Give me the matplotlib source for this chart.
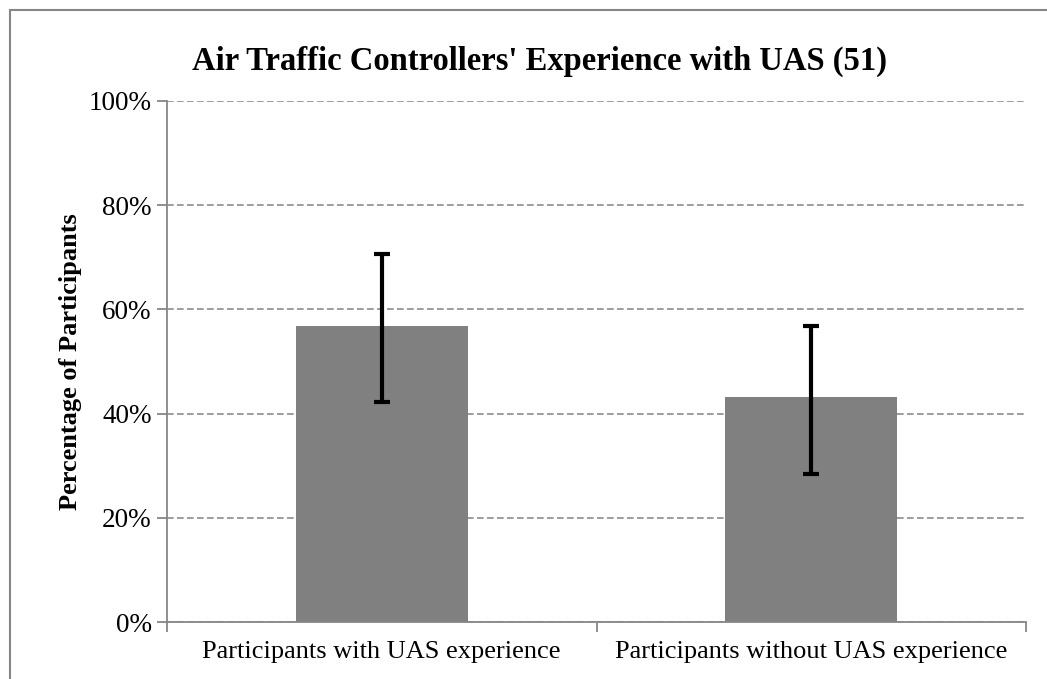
import matplotlib
matplotlib.use("Agg")
from matplotlib import pyplot as plt
from matplotlib.patches import Rectangle
from matplotlib.ticker import FuncFormatter

categories = ["Participants with UAS experience", "Participants without UAS experience"]
percent = [56.9, 43.1]
err_low = [14.6, 14.6]
err_high = [13.8, 13.8]
yticks = [0, 20, 40, 60, 80, 100]

plt.rcParams['font.family'] = ['Liberation Serif', 'DejaVu Serif']

fig = plt.figure(figsize=(10.47, 6.79), dpi=100)
ax = fig.add_axes([167 / 1047, 1 - 622 / 679, (1026 - 167) / 1047, (622 - 101) / 679])

# outer chart frame (right/bottom edges sit off the picture)
fig.patches.append(Rectangle((10 / 1047, -0.05), 1.1, 1 - 10 / 679 + 0.05,
                             transform=fig.transFigure, fill=False,
                             edgecolor='#868686', linewidth=1.5))

x = [0.5, 1.5]
ax.bar(x, percent, width=0.4, color='#808080', zorder=2)
ax.errorbar(x, percent, yerr=[err_low, err_high], fmt='none', ecolor='black',
            elinewidth=3, capsize=6, capthick=3, zorder=3)

ax.set_xlim(0, 2)
ax.set_ylim(0, 100)
ax.set_yticks(yticks)
ax.yaxis.set_major_formatter(FuncFormatter(lambda v, p: f"{v:.0f}%"))
ax.set_xticks([0, 1, 2])
ax.set_xticklabels([])
ax.set_xticks(x, minor=True)
ax.set_xticklabels(categories, minor=True)
ax.tick_params(axis='x', which='minor', length=0, labelsize=19, pad=14)
ax.tick_params(axis='x', which='major', length=7, color='#868686', width=1.3)
ax.tick_params(axis='y', length=7, color='#868686', width=1.3, labelsize=19.5, pad=4)

ax.grid(axis='y', linestyle=(0, (4, 2)), color='#8c8c8c', linewidth=1.2, zorder=0)
for s in ['top', 'right']:
    ax.spines[s].set_visible(False)
for s in ['left', 'bottom']:
    ax.spines[s].set_color('#868686')
    ax.spines[s].set_linewidth(1.3)

ax.set_ylabel("Percentage of Participants", fontsize=19, fontweight='bold', labelpad=5)
fig.text(539 / 1047, 1 - 61 / 679, "Air Traffic Controllers' Experience with UAS (51)",
         ha='center', va='center', fontsize=23.5, fontweight='bold')

plt.savefig('out.png', dpi=100)
